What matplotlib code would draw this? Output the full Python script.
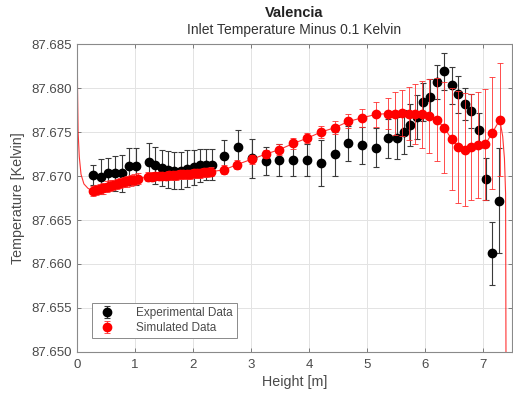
import matplotlib
matplotlib.use("Agg")
import matplotlib.pyplot as plt
import numpy as np

plt.rcParams["font.family"] = ["Liberation Sans", "DejaVu Sans"]

# experimental data (black)
exp_x = [0.28, 0.41, 0.54, 0.66, 0.78, 0.90, 1.02,
         1.24, 1.35, 1.46, 1.57, 1.68, 1.79, 1.90, 2.01, 2.12, 2.23, 2.33,
         2.54, 2.78, 3.01, 3.26, 3.49, 3.73, 3.97, 4.21, 4.45, 4.68, 4.91, 5.15,
         5.37, 5.51, 5.63, 5.74, 5.86, 5.97, 6.09, 6.20, 6.33, 6.46, 6.57, 6.69,
         6.80, 6.93, 7.05, 7.16, 7.28]
exp_y = [87.6701, 87.6699, 87.6703, 87.6703, 87.6703, 87.6711, 87.6711,
         87.6716, 87.6712, 87.6709, 87.6707, 87.6706, 87.6706, 87.6708, 87.6710, 87.6712, 87.6713, 87.6713,
         87.6723, 87.6733, 87.6720, 87.6717, 87.6718, 87.6718, 87.6718, 87.6715, 87.6725, 87.6737, 87.6735, 87.6732,
         87.6743, 87.6743, 87.6750, 87.6758, 87.6767, 87.6784, 87.6790, 87.6807, 87.6819, 87.6803, 87.6793, 87.6782,
         87.6774, 87.6752, 87.6697, 87.6612, 87.6672]
exp_err = [0.0011, 0.0020, 0.0018, 0.0020, 0.0021, 0.0021, 0.0021,
           0.0022, 0.0021, 0.0020, 0.0021, 0.0021, 0.0021, 0.0021, 0.0020, 0.0019, 0.0018, 0.0018,
           0.0018, 0.0019, 0.0022, 0.0016, 0.0018, 0.0018, 0.0018, 0.0026, 0.0025, 0.0020, 0.0021, 0.0022,
           0.0022, 0.0024, 0.0025, 0.0024, 0.0025, 0.0022, 0.0020, 0.0019, 0.0021, 0.0021, 0.0021, 0.0018,
           0.0019, 0.0020, 0.0024, 0.0036, 0.0060]

# simulated data (red markers)
sim_x = [0.27, 0.33, 0.39, 0.45, 0.51, 0.57, 0.63, 0.69, 0.75, 0.81, 0.87, 0.93, 0.99, 1.05,
         1.23, 1.29, 1.35, 1.41, 1.47, 1.53, 1.59, 1.65, 1.71, 1.77, 1.83, 1.89, 1.95, 2.01,
         2.07, 2.13, 2.19, 2.25, 2.31,
         2.54, 2.76, 3.01, 3.26, 3.49, 3.73, 3.97, 4.21, 4.45, 4.68, 4.91, 5.15,
         5.37, 5.49, 5.60, 5.72, 5.83, 5.95, 6.07, 6.20, 6.33, 6.46, 6.57, 6.69,
         6.80, 6.92, 7.04, 7.16, 7.29]
sim_y = [87.6683, 87.6684, 87.6685, 87.6686, 87.6688, 87.6689, 87.6690, 87.6691, 87.6692, 87.6693,
         87.6694, 87.6695, 87.6696, 87.6697,
         87.6699, 87.6699, 87.6700, 87.6700, 87.6700, 87.6700, 87.6701, 87.6701, 87.6701, 87.6702,
         87.6702, 87.6702, 87.6702, 87.6703, 87.6703, 87.6703, 87.6704, 87.6704, 87.6705,
         87.6707, 87.6713, 87.6719, 87.6725, 87.6730, 87.6737, 87.6743, 87.6750, 87.6755, 87.6762,
         87.6766, 87.6770,
         87.6771, 87.6771, 87.6772, 87.6771, 87.6770, 87.6770, 87.6768, 87.6764, 87.6755, 87.6742,
         87.6733, 87.6730, 87.6733, 87.6735, 87.6736, 87.6749, 87.6764]
sim_err = [0.0006, 0.0006, 0.0006, 0.0006, 0.0006, 0.0006, 0.0006, 0.0006, 0.0006, 0.0006,
           0.0006, 0.0006, 0.0006, 0.0006,
           0.0005, 0.0005, 0.0005, 0.0005, 0.0005, 0.0005, 0.0005, 0.0005, 0.0005, 0.0005,
           0.0005, 0.0005, 0.0005, 0.0005, 0.0005, 0.0005, 0.0005, 0.0005, 0.0005,
           0.0005, 0.0005, 0.0005, 0.0005, 0.0006, 0.0006, 0.0006, 0.0007, 0.0007, 0.0008,
           0.0010, 0.0014,
           0.0018, 0.0024, 0.0026, 0.0030, 0.0034, 0.0038, 0.0042, 0.0047, 0.0052, 0.0058,
           0.0064, 0.0064, 0.0060, 0.0060, 0.0063, 0.0064, 0.0064]

# continuous simulation curve: inlet and outlet ends beyond the markers
line_head_x = [0.0, 0.01, 0.02, 0.04, 0.07, 0.12, 0.19]
line_head_y = [87.6900, 87.6800, 87.6750, 87.6722, 87.6702, 87.6691, 87.6686]
line_tail_x = [7.34, 7.37, 7.39, 7.40]
line_tail_y = [87.6745, 87.6720, 87.6680, 87.6400]

x_ticks = [0, 1, 2, 3, 4, 5, 6, 7]
y_ticks = [87.650, 87.655, 87.660, 87.665, 87.670, 87.675, 87.680, 87.685]


def main():
    fig = plt.figure(figsize=(5.13, 3.98), dpi=100)
    ax = fig.add_axes([0.150, 0.1156, 0.848, 0.7738])

    line_x = line_head_x + sim_x + line_tail_x
    line_y = line_head_y + sim_y + line_tail_y
    ax.plot(line_x, line_y, color="red", lw=0.8, alpha=0.8, zorder=2)

    ax.errorbar(exp_x, exp_y, yerr=exp_err, fmt="o", color="black", ms=6,
                ecolor="#3a3a3a", elinewidth=0.8, capsize=2.5, capthick=0.8,
                label="Experimental Data", zorder=3)
    ax.errorbar(sim_x, sim_y, yerr=sim_err, fmt="o", color="red", ms=6,
                ecolor="#ff3030", elinewidth=0.6, capsize=2.5, capthick=0.6,
                label="Simulated Data", zorder=4)

    ax.set_xlim(0, 7.5)
    ax.set_ylim(87.650, 87.685)
    ax.set_xticks(x_ticks)
    ax.set_yticks(y_ticks)
    ax.set_yticklabels([f"{v:.3f}" for v in y_ticks])
    ax.grid(True, color="#e3e3e3", lw=0.7)
    ax.set_axisbelow(True)

    gray = "#4a4a4a"
    ax.tick_params(direction="in", top=True, right=True, length=3, width=0.6,
                   colors="#6a6a6a", labelcolor=gray, labelsize=9.5)
    ax.tick_params(axis="x", pad=5)
    ax.tick_params(axis="y", pad=3.5)
    for sp in ax.spines.values():
        sp.set_color("#8a8a8a")
        sp.set_linewidth(0.8)

    ax.set_xlabel("Height [m]", fontsize=10.3, color=gray, labelpad=3)
    ax.set_ylabel("Temperature [Kelvin]", fontsize=10.3, color=gray, labelpad=5)

    fig.text(0.574, 0.967, "Valencia", ha="center", va="center",
             fontsize=10.5, fontweight="bold", color="#222222")
    fig.text(0.574, 0.925, "Inlet Temperature Minus 0.1 Kelvin", ha="center",
             va="center", fontsize=10, color="#333333")

    leg = ax.legend(loc="lower left", bbox_to_anchor=(0.02, 0.025), fontsize=8.5,
                    fancybox=False, framealpha=1, edgecolor="#8a8a8a",
                    borderpad=0.35, handletextpad=1.4, labelspacing=0.25)
    leg.get_frame().set_linewidth(0.7)
    for t in leg.get_texts():
        t.set_color(gray)

    fig.savefig("out.png", dpi=100)
    plt.close(fig)


if __name__ == "__main__":
    main()
